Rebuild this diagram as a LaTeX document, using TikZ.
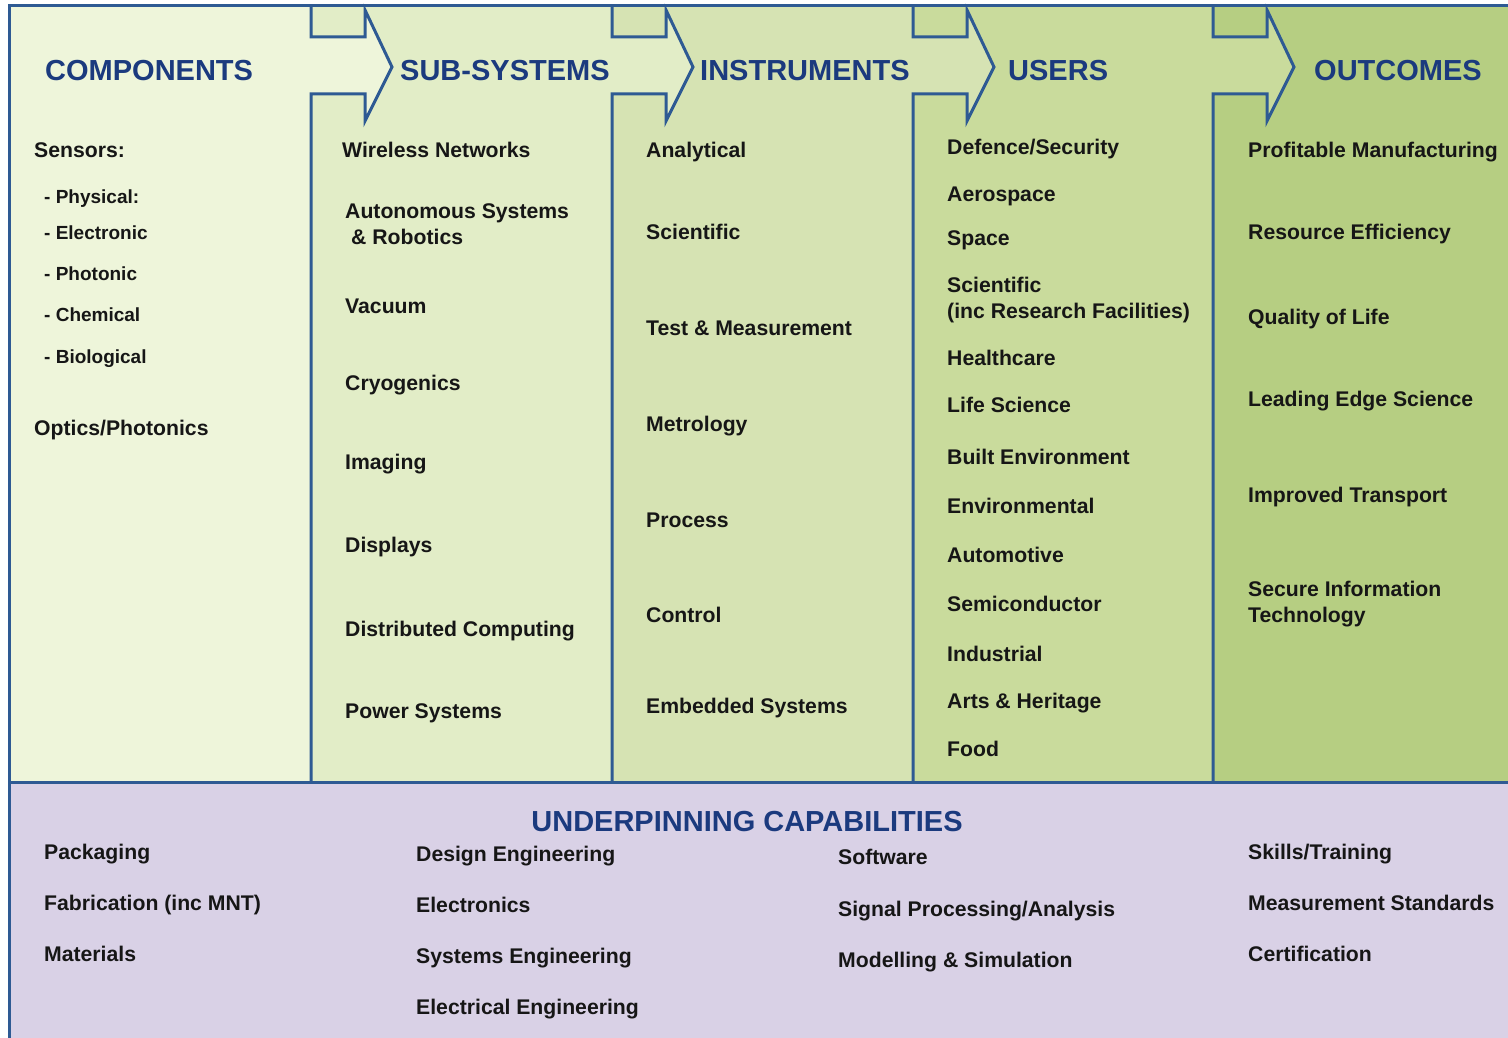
\documentclass[tikz,border=0pt]{standalone}
\usepackage{fontspec}
\setmainfont{Liberation Sans}
\definecolor{cA}{HTML}{EEF5DA}
\definecolor{cB}{HTML}{E2EDC7}
\definecolor{cC}{HTML}{D6E3B3}
\definecolor{cD}{HTML}{C9DB9C}
\definecolor{cE}{HTML}{B6CE82}
\definecolor{lav}{HTML}{D9D1E6}
\definecolor{bord}{HTML}{2E5A93}
\definecolor{navy}{HTML}{1B3A7E}
\definecolor{txt}{HTML}{161616}
\tikzset{
  item/.style={anchor=base west, inner sep=0pt, text=txt, font=\bfseries\fontsize{21.2}{25}\selectfont},
  subitem/.style={item, font=\bfseries\fontsize{19}{23}\selectfont},
  ttl/.style={anchor=base west, inner sep=0pt, text=navy, font=\bfseries\fontsize{29}{34}\selectfont},
  sepline/.style={draw=bord, line width=3pt, line join=miter},
}
\newcommand{\arrowsep}[2]{%
  \fill[#2] (#1,37) -- (#1+54,37) -- (#1+54,10) -- (#1+81,67) -- (#1+54,121) -- (#1+54,94) -- (#1,94) -- cycle;
  \draw[sepline] (#1,6) -- (#1,37) -- (#1+54,37) -- (#1+54,10) -- (#1+81,67) -- (#1+54,121) -- (#1+54,94) -- (#1,94) -- (#1,782);
}
\begin{document}
\begin{tikzpicture}[x=1pt,y=-1pt]
\useasboundingbox (0,0) rectangle (1508,1038);
\fill[white] (0,0) rectangle (1508,1038);
% panels
\fill[cA] (9,6) rectangle (311,782);
\fill[cB] (311,6) rectangle (612,782);
\fill[cC] (612,6) rectangle (913,782);
\fill[cD] (913,6) rectangle (1213,782);
\fill[cE] (1213,6) rectangle (1508,782);
\fill[lav] (9,782) rectangle (1508,1038);
% separators with arrows
\arrowsep{311}{cA}
\arrowsep{612}{cB}
\arrowsep{913}{cC}
\arrowsep{1213}{cD}
% frame
\draw[sepline] (1508,6) -- (9,6) -- (9,1038);
\draw[sepline] (9,782) -- (1508,782);

\begin{scope}[yshift=-1.5pt]
% titles
\node[ttl] (tcomp) at (45,79) {COMPONENTS};
\node[ttl] (tsub) at (400,79) {SUB-SYSTEMS};
\node[ttl] (tinst) at (700,79) {INSTRUMENTS};
\node[ttl] (tuser) at (1008,79) {USERS};
\node[ttl] (tout) at (1314,79) {OUTCOMES};
\node[ttl, anchor=base] (tund) at (747,830) {UNDERPINNING CAPABILITIES};

% components
\node[item] (sens) at (34,156) {Sensors:};
\node[subitem] (phys) at (44,202) {- Physical:};
\node[subitem] (elec) at (44,238) {- Electronic};
\node[subitem] (phot) at (44,279) {- Photonic};
\node[subitem] (chem) at (44,320) {- Chemical};
\node[subitem] (biol) at (44,362) {- Biological};
\node[item] (opt) at (34,434) {Optics/Photonics};

% sub-systems
\node[item] (s1) at (342,156) {Wireless Networks};
\node[item] (s2) at (345,217) {Autonomous Systems};
\node[item] (s2b) at (351,243) {\& Robotics};
\node[item] (s3) at (345,312) {Vacuum};
\node[item] (s4) at (345,389) {Cryogenics};
\node[item] (s5) at (345,468) {Imaging};
\node[item] (s6) at (345,551) {Displays};
\node[item] (s7) at (345,635) {Distributed Computing};
\node[item] (s8) at (345,717) {Power Systems};

% instruments
\node[item] (i1) at (646,156) {Analytical};
\node[item] (i2) at (646,238) {Scientific};
\node[item] (i3) at (646,334) {Test \& Measurement};
\node[item] (i4) at (646,430) {Metrology};
\node[item] (i5) at (646,526) {Process};
\node[item] (i6) at (646,621) {Control};
\node[item] (i7) at (646,712) {Embedded Systems};

% users
\node[item] (u1) at (947,153) {Defence/Security};
\node[item] (u2) at (947,200) {Aerospace};
\node[item] (u3) at (947,244) {Space};
\node[item] (u4) at (947,291) {Scientific};
\node[item] (u4b) at (947,317) {(inc Research Facilities)};
\node[item] (u5) at (947,364) {Healthcare};
\node[item] (u6) at (947,411) {Life Science};
\node[item] (u7) at (947,463) {Built Environment};
\node[item] (u8) at (947,512) {Environmental};
\node[item] (u9) at (947,561) {Automotive};
\node[item] (u10) at (947,610) {Semiconductor};
\node[item] (u11) at (947,660) {Industrial};
\node[item] (u12) at (947,707) {Arts \& Heritage};
\node[item] (u13) at (947,755) {Food};

% outcomes
\node[item] (o1) at (1248,156) {Profitable Manufacturing};
\node[item] (o2) at (1248,238) {Resource Efficiency};
\node[item] (o3) at (1248,323) {Quality of Life};
\node[item] (o4) at (1248,405) {Leading Edge Science};
\node[item] (o5) at (1248,501) {Improved Transport};
\node[item] (o6) at (1248,595) {Secure Information};
\node[item] (o6b) at (1248,621) {Technology};

% underpinning
\node[item] (b11) at (44,858) {Packaging};
\node[item] (b12) at (44,909) {Fabrication (inc MNT)};
\node[item] (b13) at (44,960) {Materials};
\node[item] (b21) at (416,860) {Design Engineering};
\node[item] (b22) at (416,911) {Electronics};
\node[item] (b23) at (416,962) {Systems Engineering};
\node[item] (b24) at (416,1013) {Electrical Engineering};
\node[item] (b31) at (838,863) {Software};
\node[item] (b32) at (838,915) {Signal Processing/Analysis};
\node[item] (b33) at (838,966) {Modelling \& Simulation};
\node[item] (b41) at (1248,858) {Skills/Training};
\node[item] (b42) at (1248,909) {Measurement Standards};
\node[item] (b43) at (1248,960) {Certification};
\end{scope}
\end{tikzpicture}
\end{document}
